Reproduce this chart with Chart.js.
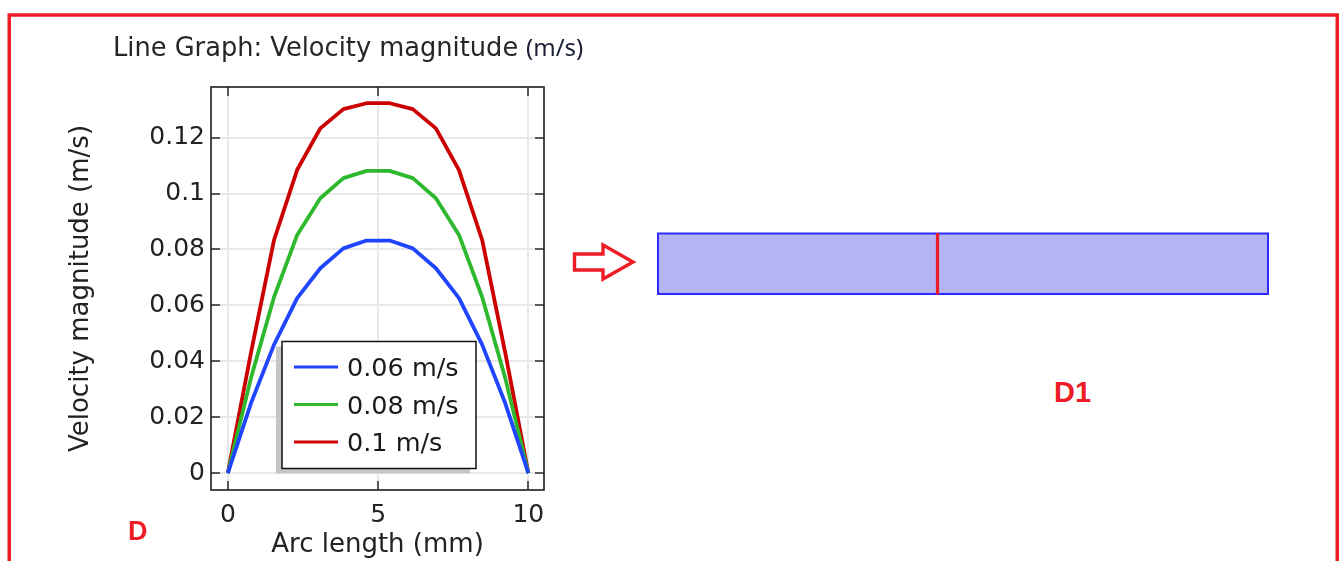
<!DOCTYPE html>
<html>
<head>
<meta charset="utf-8">
<title>Velocity magnitude</title>
<script src="https://cdn.jsdelivr.net/npm/chart.js@4.4.1/dist/chart.umd.min.js"></script>
<style>
  html, body { margin: 0; padding: 0; background: #fff; }
  body { width: 1344px; height: 561px; position: relative; overflow: hidden; }
  #sketch { position: absolute; left: 0; top: 0; }
  #plotWrap { position: absolute; left: 0; top: 0; width: 560px; height: 561px; }
  .lbl { position: absolute; white-space: nowrap; line-height: 1; }
  #plotTitle { left: 113px; top: 31.5px; font: 25.7px "DejaVu Sans", sans-serif; color: #262626; }
  #plotUnit { left: 526px; top: 29.5px; font: 24px "Noto Sans", sans-serif; color: #1c2036; }
  .tag { font: bold 27px "Liberation Sans", Arial, sans-serif; color: #ee1c24; }
  #tagD { left: 128px; top: 516px; }
  #tagD1 { left: 1054px; top: 376px; font-size: 29px; }
</style>
</head>
<body>
<svg id="sketch" width="1344" height="561">
  <!-- outer frame -->
  <rect x="9.25" y="15" width="1328" height="600" fill="none" stroke="#ee1c24" stroke-width="3.5"/>
  <!-- hollow arrow -->
  <polygon points="574.5,254 603,254 603,245 633,262 603,279 603,270 574.5,270"
           fill="#fff" stroke="#ee1c24" stroke-width="3.4"/>
  <!-- channel with cut line -->
  <rect x="658" y="233.5" width="610" height="60.5" fill="#b4b4f2" stroke="#2a2aff" stroke-width="2"/>
  <line x1="937.5" y1="233" x2="937.5" y2="294.5" stroke="#ee1c24" stroke-width="3.2"/>
</svg>

<div id="plotWrap"><canvas id="velChart"></canvas></div>

<div class="lbl" id="plotTitle">Line Graph: Velocity magnitude</div>
<div class="lbl" id="plotUnit">(m/s)</div>
<div class="lbl tag" id="tagD">D</div>
<div class="lbl tag" id="tagD1">D1</div>

<script>
// arc length along the cut line (mm)
const arcLength = [0, 0.769, 1.538, 2.308, 3.077, 3.846, 4.615, 5.385, 6.154, 6.923, 7.692, 8.462, 9.231, 10];
// velocity magnitude (m/s) for each inlet velocity
const vel006 = [0, 0.025, 0.046, 0.0626, 0.0733, 0.0804, 0.0832, 0.0832, 0.0804, 0.0733, 0.0626, 0.046, 0.025, 0];
const vel008 = [0, 0.034, 0.063, 0.0852, 0.0983, 0.1055, 0.1081, 0.1081, 0.1055, 0.0983, 0.0852, 0.063, 0.034, 0];
const vel010 = [0, 0.043, 0.0834, 0.1085, 0.1233, 0.1302, 0.1323, 0.1323, 0.1302, 0.1233, 0.1084, 0.0834, 0.043, 0];

const seriesLabels = ['0.06 m/s', '0.08 m/s', '0.1 m/s'];
const seriesColors = ['#1f45ff', '#2eb82e', '#cc0000'];

const xTicks = [0, 5, 10];
const yTicks = [0, 0.02, 0.04, 0.06, 0.08, 0.1, 0.12];
const yTickLabels = ['0', '0.02', '0.04', '0.06', '0.08', '0.1', '0.12'];

const toPoints = vals => arcLength.map((x, i) => ({ x: x, y: vals[i] }));

// box around the plot, inward ticks on all four sides, and the inset legend
const boxAndLegend = {
  id: 'boxAndLegend',
  afterDatasetsDraw(chart) {
    const ctx = chart.ctx;
    const { left, right, top, bottom } = chart.chartArea;
    const xs = chart.scales.x, ys = chart.scales.y;
    const tl = 9;

    ctx.save();
    ctx.strokeStyle = '#2a2a2a';
    ctx.lineWidth = 1.5;
    ctx.beginPath();
    xs.ticks.forEach(t => {
      const px = Math.round(xs.getPixelForValue(t.value));
      ctx.moveTo(px, bottom); ctx.lineTo(px, bottom - tl);
      ctx.moveTo(px, top); ctx.lineTo(px, top + tl);
    });
    ys.ticks.forEach(t => {
      const py = Math.round(ys.getPixelForValue(t.value));
      ctx.moveTo(left, py); ctx.lineTo(left + tl, py);
      ctx.moveTo(right, py); ctx.lineTo(right - tl, py);
    });
    ctx.stroke();
    ctx.lineWidth = 1.7;
    ctx.strokeRect(left, top, right - left, bottom - top);

    // legend
    const lg = { x: 282, y: 341.5, w: 194, h: 127 };
    ctx.fillStyle = '#c6c6c6';
    ctx.fillRect(lg.x - 6, lg.y + 5, lg.w, lg.h);
    ctx.fillStyle = '#fff';
    ctx.fillRect(lg.x, lg.y, lg.w, lg.h);
    ctx.strokeStyle = '#111';
    ctx.lineWidth = 1.5;
    ctx.strokeRect(lg.x, lg.y, lg.w, lg.h);

    ctx.font = '25.5px "DejaVu Sans", sans-serif';
    ctx.textBaseline = 'alphabetic';
    ctx.textAlign = 'left';
    chart.data.datasets.forEach((ds, i) => {
      const cy = lg.y + 25.5 + i * 37.5;
      ctx.strokeStyle = ds.borderColor;
      ctx.lineWidth = 2.8;
      ctx.beginPath();
      ctx.moveTo(lg.x + 12, cy);
      ctx.lineTo(lg.x + 56, cy);
      ctx.stroke();
      ctx.fillStyle = '#1a1a1a';
      ctx.fillText(ds.label, lg.x + 65, cy + 9);
    });
    ctx.restore();
  }
};

Chart.defaults.font.family = '"DejaVu Sans", sans-serif';
Chart.defaults.color = '#222';

new Chart(document.getElementById('velChart'), {
  type: 'line',
  data: {
    datasets: [vel006, vel008, vel010].map((vals, i) => ({
      label: seriesLabels[i],
      data: toPoints(vals),
      borderColor: seriesColors[i],
      backgroundColor: seriesColors[i],
      borderWidth: 3.8,
      borderJoinStyle: 'round',
      pointRadius: 0,
      tension: 0,
      fill: false
    }))
  },
  options: {
    responsive: true,
    maintainAspectRatio: false,
    animation: false,
    layout: { padding: { left: 0, top: 87, right: 16, bottom: 0 } },
    plugins: {
      legend: { display: false },
      tooltip: { enabled: false }
    },
    scales: {
      x: {
        type: 'linear',
        min: -0.56,
        max: 10.52,
        afterBuildTicks: s => { s.ticks = xTicks.map(v => ({ value: v })); },
        afterFit: s => { s.height = 71; },
        grid: { color: '#e8e8e8', lineWidth: 2, drawTicks: false },
        border: { display: false },
        ticks: {
          padding: 10.5,
          maxRotation: 0,
          autoSkip: false,
          font: { size: 25 },
          callback: v => String(v)
        },
        title: {
          display: true,
          text: 'Arc length (mm)',
          font: { size: 26 },
          padding: { top: 0, bottom: 0 }
        }
      },
      y: {
        type: 'linear',
        min: -0.006,
        max: 0.1381,
        afterBuildTicks: s => { s.ticks = yTicks.map(v => ({ value: v })); },
        afterFit: s => { s.width = 211; },
        grid: { color: '#e8e8e8', lineWidth: 2, drawTicks: false },
        border: { display: false },
        ticks: {
          padding: 6,
          autoSkip: false,
          font: { size: 25 },
          callback: (v, i) => yTickLabels[i]
        },
        title: {
          display: true,
          text: 'Velocity magnitude (m/s)',
          font: { size: 26 },
          padding: { top: 65.5, bottom: 0 }
        }
      }
    }
  },
  plugins: [boxAndLegend]
});
</script>
</body>
</html>
